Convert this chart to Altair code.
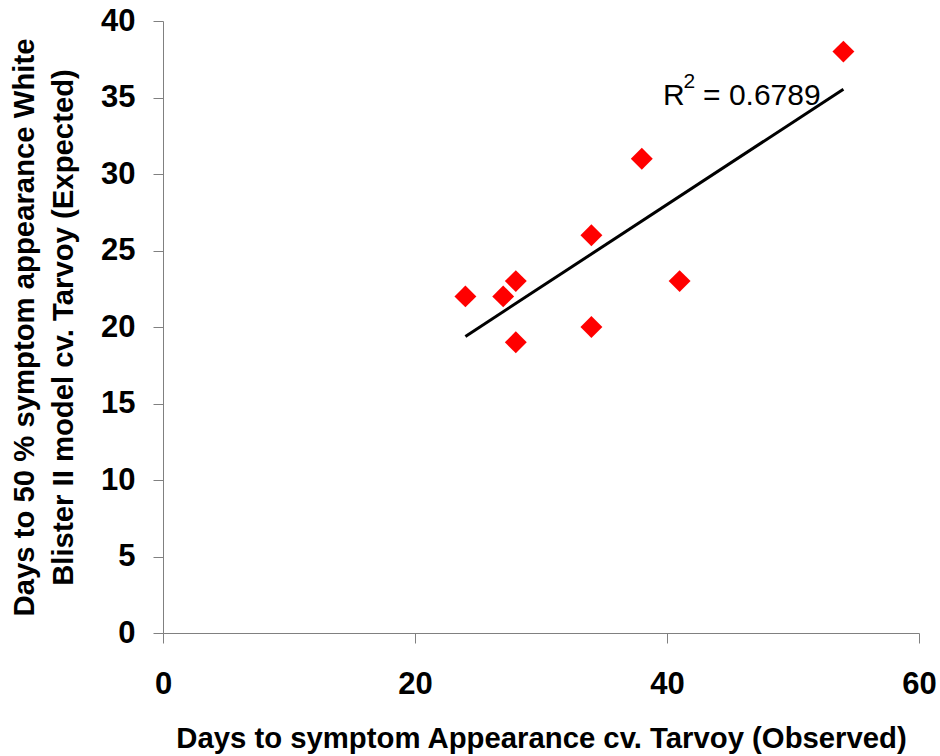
import altair as alt
import pandas as pd

observed = [24, 27, 28, 28, 34, 34, 38, 41, 54]
expected = [22, 22, 23, 19, 26, 20, 31, 23, 38]

# R² annotation pieces (main text and superscript)
ann_text = ["R", "= 0.6789"]
ann_x = [39.68, 42.86]
ann_y = [34.5, 34.5]
sup_text = ["2"]
sup_x = [41.3]
sup_y = [35.62]

df = pd.DataFrame({"obs": observed, "exp": expected})
ann = pd.DataFrame({"x": ann_x, "y": ann_y, "t": ann_text})
sup = pd.DataFrame({"x": sup_x, "y": sup_y, "t": sup_text})

FONT = "Liberation Sans"
xscale = alt.Scale(domain=[0, 60], nice=False, zero=True)
yscale = alt.Scale(domain=[0, 40], nice=False, zero=True)

xaxis = alt.Axis(
    title="Days to symptom Appearance cv. Tarvoy (Observed)",
    values=[0, 20, 40, 60], grid=False, labelFlush=False,
    labelFont=FONT, labelFontSize=31, labelFontWeight="bold",
    labelColor="black", labelPadding=26, tickSize=10,
    titleFont=FONT, titleFontSize=29.3, titleFontWeight="bold",
    titleColor="black", titlePadding=25,
    domainColor="#808080", tickColor="#808080",
)
yaxis = alt.Axis(
    title=["Days to 50 % symptom appearance White", "Blister II model cv. Tarvoy (Expected)"],
    values=[0, 5, 10, 15, 20, 25, 30, 35, 40], grid=False, labelFlush=False,
    labelFont=FONT, labelFontSize=31, labelFontWeight="bold",
    labelColor="black", labelPadding=18, tickSize=10,
    titleFont=FONT, titleFontSize=29.3, titleFontWeight="bold",
    titleColor="black", titlePadding=22, titleLineHeight=39,
    domainColor="#808080", tickColor="#808080",
)

points = alt.Chart(df).mark_point(
    shape="diamond", filled=True, color="#ff0000", size=480, opacity=1
).encode(
    x=alt.X("obs:Q", scale=xscale, axis=xaxis),
    y=alt.Y("exp:Q", scale=yscale, axis=yaxis),
)

line = alt.Chart(df).transform_regression("obs", "exp").mark_line(
    color="black", strokeWidth=3
).encode(
    x=alt.X("obs:Q", scale=xscale),
    y=alt.Y("exp:Q", scale=yscale),
)

label = alt.Chart(ann).mark_text(
    align="left", baseline="alphabetic", font=FONT, fontSize=30, color="black"
).encode(
    x=alt.X("x:Q", scale=xscale),
    y=alt.Y("y:Q", scale=yscale),
    text="t:N",
)

suplabel = alt.Chart(sup).mark_text(
    align="left", baseline="alphabetic", font=FONT, fontSize=21, color="black"
).encode(
    x=alt.X("x:Q", scale=xscale),
    y=alt.Y("y:Q", scale=yscale),
    text="t:N",
)

chart = alt.layer(line, points, label, suplabel).properties(
    width=756, height=612,
    autosize=alt.AutoSizeParams(type="none"),
    padding={"left": 163, "top": 21, "right": 21, "bottom": 123},
    background="white",
).configure_view(stroke=None)

chart.save("out.html", embed_options={"renderer": "svg", "actions": False})
